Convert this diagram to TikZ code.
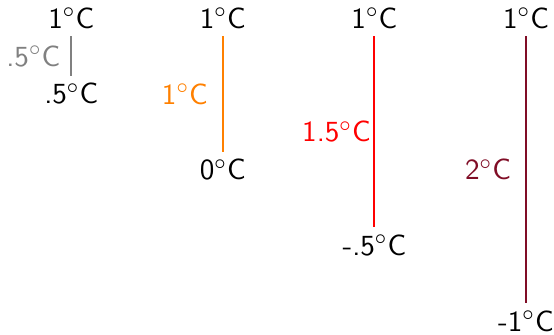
\documentclass[tikz,border=0pt,11pt]{standalone}
\usepackage{xcolor}
\usetikzlibrary{positioning}
\definecolor{darkred}{rgb}{0.5,0.05,0.15}

\begin{document}
\begin{tikzpicture}[font=\sffamily,line width=0.7pt,inner sep=2.5pt]
\useasboundingbox (-0.94,-2.17) rectangle (6.37,2.24);
\node (a0) at (0,2) {1$^\circ$C}; \node (a1) at (0,1) {.5$^\circ$C};
\node (b0) at (2,2) {1$^\circ$C}; \node (b1) at (2,0) {0$^\circ$C};
\node (c0) at (4,2) {1$^\circ$C}; \node (c1) at (4,-1) {-.5$^\circ$C};
\node (d0) at (6,2) {1$^\circ$C}; \node (d1) at (6,-2) {-1$^\circ$C};
\node[gray] (la) at (-0.5,1.5) {.5$^\circ$C};
\node[orange] (lb) at (1.5,1) {1$^\circ$C};
\node[red] (lc) at (3.5,0.5) {1.5$^\circ$C};
\node[darkred] (ld) at (5.5,0) {2$^\circ$C};
\draw[gray] (a0)--(a1);
\draw[orange] (b0)--(b1);
\draw[red] (c0)--(c1);
\draw[darkred] (d0)--(d1);
\end{tikzpicture}
\end{document}
